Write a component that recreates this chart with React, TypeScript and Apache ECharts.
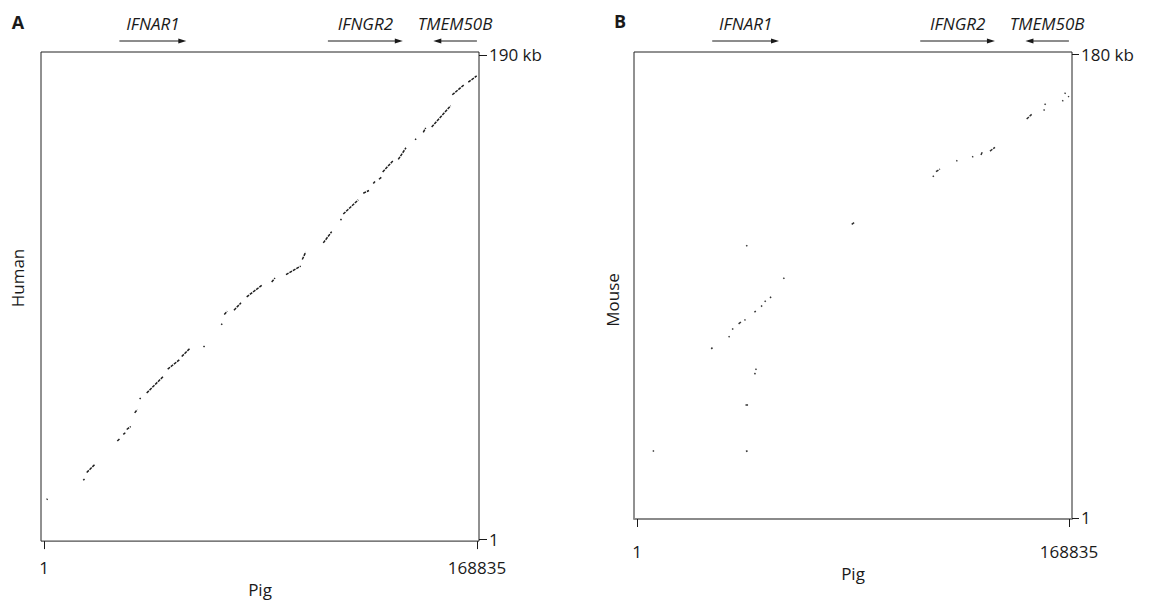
import React, { useEffect, useRef } from "react";
import * as echarts from "echarts";

// Sequence lengths (bp)
const pigLength = 168835;
const humanLength = 190000;
const mouseLength = 180000;

// Alignment segments Pig vs Human: [pigStart, humanStart, pigEnd, humanEnd]
const humanSegments: number[][] = [
  [1053, 15487, 1365, 15799],
  [15323, 23133, 15791, 23601],
  [16649, 26137, 19885, 29375],
  [28580, 38503, 29632, 39517],
  [30919, 41078, 31699, 41741],
  [32245, 43028, 33805, 44198],
  [35364, 49543, 36378, 50830],
  [37300, 55000, 37700, 55400],
  [40043, 57345, 46515, 63859],
  [48231, 66707, 52754, 70335],
  [53690, 71661, 56925, 74899],
  [62200, 75400, 62600, 75800],
  [69100, 84100, 69500, 84500],
  [70299, 88163, 71469, 89450],
  [74081, 89840, 76810, 92727],
  [79033, 95067, 84881, 99593],
  [88780, 100919, 90067, 102480],
  [94356, 103767, 100087, 107161],
  [100711, 109734, 102037, 112621],
  [108900, 116250, 112175, 120658],
  [115600, 125200, 116000, 125600],
  [116697, 127563, 122546, 133142],
  [124495, 135755, 126718, 136808],
  [128394, 139540, 129057, 140320],
  [130617, 141216, 131669, 142113],
  [132059, 144064, 136192, 148628],
  [138141, 149018, 141144, 153582],
  [144700, 156700, 145100, 157100],
  [147889, 159667, 148825, 161384],
  [151164, 161774, 158572, 170084],
  [159196, 174375, 163758, 178276],
  [165434, 179329, 168710, 181787],
];

// Alignment segments Pig vs Mouse: [pigStart, mouseStart, pigEnd, mouseEnd]
const mouseSegments: number[][] = [
  [6200, 25800, 6600, 26200],
  [42600, 25800, 43200, 26100],
  [42400, 44000, 43400, 44100],
  [45900, 55800, 46300, 56200],
  [46300, 57500, 46700, 57900],
  [29000, 65600, 29500, 66100],
  [35800, 70200, 36200, 70500],
  [37200, 73100, 37600, 73500],
  [39700, 75300, 40800, 76200],
  [42000, 76700, 42400, 77000],
  [45900, 79800, 46400, 80300],
  [48500, 82000, 48900, 82400],
  [49900, 83900, 50300, 84300],
  [52000, 85400, 52400, 85800],
  [57200, 92800, 57600, 93200],
  [42700, 105400, 43100, 105800],
  [83905, 113925, 85195, 114818],
  [115600, 132400, 116000, 132800],
  [116849, 134330, 118412, 135378],
  [124800, 138400, 125200, 138700],
  [131000, 140000, 131400, 140300],
  [134436, 140808, 134944, 141972],
  [137952, 142359, 139906, 143794],
  [152294, 154772, 154248, 156595],
  [158900, 158100, 159300, 158500],
  [159300, 160300, 159700, 160700],
  [166200, 161700, 166600, 162000],
  [167100, 164600, 167500, 164900],
  [168500, 163300, 168835, 163600],
];

// Genes on the pig sequence: start -> end gives direction
const geneNames = ["IFNAR1", "IFNGR2", "TMEM50B"];
const geneStarts = [29400, 110700, 168800];
const geneEnds = [55500, 139900, 151800];

const panelLetters = ["A", "B"];
const yNames = ["Human", "Mouse"];
const xName = "Pig";

const FONT = "'Open Sans', 'Noto Sans', sans-serif";
const INK = "#1a1a1a";

function toLines(segs: number[][]) {
  return segs.map((s) => ({ coords: [[s[0], s[1]], [s[2], s[3]]] }));
}

export default function App() {
  const ref = useRef<HTMLDivElement>(null);

  useEffect(() => {
    if (!ref.current) return;
    const chart = echarts.init(ref.current, null, { renderer: "svg" });

    const kbLabel = (v: number) => (v <= 1 ? "1" : `${Math.round(v / 1000)} kb`);

    const makeX = (
      gridIndex: number,
      min: number,
      max: number,
      labelMargin: number,
      nameGap: number,
      line: any
    ) => ({
      type: "value",
      gridIndex,
      min,
      max,
      position: "bottom",
      name: xName,
      nameLocation: "middle",
      nameGap,
      nameTextStyle: { fontFamily: FONT, fontSize: 17, color: INK },
      axisLine: line,
      axisTick: { show: true, inside: false, length: 8, customValues: [1, pigLength], lineStyle: { color: INK, width: 1 } },
      axisLabel: {
        show: true,
        customValues: [1, pigLength],
        margin: labelMargin,
        fontFamily: FONT,
        fontSize: 17,
        color: INK,
        formatter: (v: number) => String(Math.round(v)),
      },
      splitLine: { show: false },
    });

    const makeY = (gridIndex: number, min: number, max: number, top: number, tickLen: number) => ({
      type: "value",
      gridIndex,
      min,
      max,
      position: "right",
      axisLine: { show: false, onZero: false },
      axisTick: { show: true, inside: false, length: tickLen, customValues: [1, top], lineStyle: { color: INK, width: 1 } },
      axisLabel: {
        show: true,
        customValues: [1, top],
        margin: tickLen + 2,
        fontFamily: FONT,
        fontSize: 17,
        color: INK,
        formatter: kbLabel,
      },
      splitLine: { show: false },
    });

    const option: any = {
      animation: false,
      backgroundColor: "#ffffff",
      grid: [
        { left: 41, top: 52, width: 438, height: 492, show: true, borderColor: "#222", borderWidth: 1, backgroundColor: "transparent" },
        { left: 634, top: 52, width: 438, height: 467, show: true, borderColor: "#222", borderWidth: 1, backgroundColor: "transparent" },
      ],
      xAxis: [
        makeX(0, -1169, 169615, 18, 36, { show: false, onZero: false }),
        makeX(1, -1171, 170007, 24, 42, { show: true, onZero: false, lineStyle: { color: "#8a8a8a", width: 2 } }),
      ],
      yAxis: [
        makeY(0, -779, 191170, humanLength, 8),
        makeY(1, -387, 180776, mouseLength, 7),
      ],
      series: [
        {
          type: "lines",
          coordinateSystem: "cartesian2d",
          xAxisIndex: 0,
          yAxisIndex: 0,
          polyline: false,
          silent: true,
          lineStyle: { color: "#1f1f1f", width: 1.5, type: [3, 1], opacity: 1 },
          data: toLines(humanSegments),
        },
        {
          type: "lines",
          coordinateSystem: "cartesian2d",
          xAxisIndex: 1,
          yAxisIndex: 1,
          polyline: false,
          silent: true,
          lineStyle: { color: "#333", width: 1.5, type: [3, 1], opacity: 1 },
          data: toLines(mouseSegments),
        },
      ],
    };

    chart.setOption(option);

    const graphics: any[] = [];
    const arrowY = 41;
    const labelY = 23;
    [0, 1].forEach((gi) => {
      geneNames.forEach((name, i) => {
        const xs = chart.convertToPixel({ xAxisIndex: gi }, geneStarts[i]) as number;
        const xe = chart.convertToPixel({ xAxisIndex: gi }, geneEnds[i]) as number;
        const dir = xe > xs ? 1 : -1;
        graphics.push({
          type: "line",
          shape: { x1: xs, y1: arrowY, x2: xe - dir * 5, y2: arrowY },
          style: { stroke: INK, lineWidth: 1 },
          silent: true,
        });
        graphics.push({
          type: "polygon",
          shape: { points: [[xe, arrowY], [xe - dir * 8, arrowY - 2.6], [xe - dir * 8, arrowY + 2.6]] },
          style: { fill: INK },
          silent: true,
        });
        graphics.push({
          type: "text",
          x: (xs + xe) / 2,
          y: labelY,
          style: {
            text: name,
            fontFamily: FONT,
            fontStyle: "italic",
            fontSize: 17,
            fill: INK,
            align: "center",
            verticalAlign: "middle",
          },
          silent: true,
        });
      });
    });
    // panel letters
    graphics.push({
      type: "text",
      x: 18,
      y: 22,
      style: { text: panelLetters[0], fontFamily: FONT, fontWeight: "bold", fontSize: 18, fill: INK, align: "center", verticalAlign: "middle" },
    });
    graphics.push({
      type: "text",
      x: 620,
      y: 21,
      style: { text: panelLetters[1], fontFamily: FONT, fontWeight: "bold", fontSize: 18, fill: INK, align: "center", verticalAlign: "middle" },
    });
    // vertical axis names
    graphics.push({
      type: "text",
      x: 17,
      y: 278,
      rotation: Math.PI / 2,
      style: { text: yNames[0], fontFamily: FONT, fontSize: 17, fill: INK, align: "center", verticalAlign: "middle" },
    });
    graphics.push({
      type: "text",
      x: 612,
      y: 300,
      rotation: Math.PI / 2,
      style: { text: yNames[1], fontFamily: FONT, fontSize: 17, fill: INK, align: "center", verticalAlign: "middle" },
    });

    chart.setOption({ graphic: graphics });

    return () => chart.dispose();
  }, []);

  return (
    <div
      ref={ref}
      style={{ position: "fixed", left: 0, top: 0, width: 1158, height: 603, background: "#fff" }}
    />
  );
}
